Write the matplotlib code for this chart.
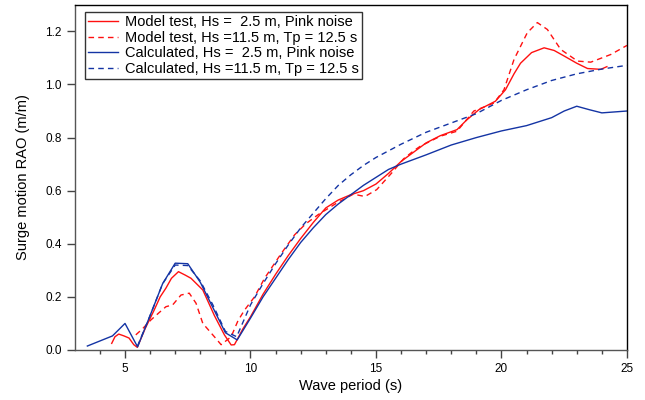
import numpy as np
import matplotlib.pyplot as plt

plt.rcParams['font.family'] = ['Liberation Sans', 'DejaVu Sans']

# model test, Hs = 2.5 m, pink noise
mt_small_T = [4.47, 4.6, 4.75, 4.96, 5.16, 5.35, 5.49, 5.8, 6.16, 6.4, 6.63, 6.85, 7.13, 7.4, 7.63,
              8.1, 8.56, 8.96, 9.23, 9.36, 9.7, 10.0, 10.5, 11.0, 11.5, 12.0, 12.5, 13.0, 13.5,
              14.0, 14.5, 15.0, 15.5, 16.0, 16.5, 17.0, 17.56, 18.23, 18.6, 19.1, 19.76, 20.16,
              20.5, 20.76, 21.2, 21.7, 22.1, 22.5, 23.0, 23.43, 23.96, 24.2]
mt_small_rao = [0.025, 0.05, 0.06, 0.053, 0.045, 0.02, 0.01, 0.08, 0.15, 0.2, 0.233, 0.27, 0.295,
                0.282, 0.27, 0.226, 0.13, 0.057, 0.019, 0.02, 0.08, 0.125, 0.21, 0.285, 0.355,
                0.42, 0.48, 0.535, 0.565, 0.585, 0.6, 0.625, 0.665, 0.71, 0.745, 0.78, 0.807,
                0.83, 0.865, 0.905, 0.937, 0.98, 1.04, 1.08, 1.12, 1.138, 1.128, 1.107, 1.08,
                1.06, 1.057, 1.067]

# model test, Hs = 11.5 m, Tp = 12.5 s
mt_large_T = [5.43, 5.7, 6.03, 6.35, 6.63, 6.9, 7.23, 7.56, 7.83, 8.1, 8.56, 8.83, 9.23, 9.5,
              9.76, 10.16, 10.56, 11.2, 11.76, 12.2, 12.7, 13.43, 14.1, 14.56, 15.03, 15.63,
              16.1, 16.5, 16.76, 17.56, 18.23, 18.9, 19.7, 20.1, 20.5, 21.03, 21.43, 21.83,
              22.36, 23.03, 23.56, 24.36, 25.0]
mt_large_rao = [0.057, 0.08, 0.113, 0.14, 0.163, 0.17, 0.207, 0.214, 0.176, 0.10, 0.05, 0.02,
                0.05, 0.11, 0.15, 0.2, 0.27, 0.36, 0.434, 0.475, 0.51, 0.553, 0.587, 0.578,
                0.604, 0.667, 0.72, 0.75, 0.767, 0.805, 0.824, 0.9, 0.93, 0.98, 1.094, 1.195,
                1.233, 1.207, 1.132, 1.088, 1.084, 1.113, 1.147]

# calculated, Hs = 2.5 m, pink noise
calc_small_T = [3.5, 4.5, 5.0, 5.5, 6.0, 6.5, 7.0, 7.5, 8.0, 8.5, 9.0, 9.47, 10.0, 10.5, 11.0,
                11.5, 12.0, 12.5, 13.0, 13.5, 14.0, 14.5, 15.0, 15.5, 16.0, 17.0, 18.0, 19.0,
                20.0, 21.0, 21.5, 22.0, 22.5, 23.0, 23.5, 24.0, 25.0]
calc_small_rao = [0.015, 0.053, 0.10, 0.012, 0.13, 0.25, 0.327, 0.325, 0.255, 0.16, 0.065, 0.038,
                  0.12, 0.2, 0.27, 0.34, 0.405, 0.46, 0.51, 0.55, 0.585, 0.62, 0.65, 0.68, 0.70,
                  0.735, 0.772, 0.80, 0.825, 0.845, 0.86, 0.875, 0.90, 0.918, 0.905, 0.893, 0.90]

# calculated, Hs = 11.5 m, Tp = 12.5 s
calc_large_T = [5.5, 6.0, 6.5, 7.0, 7.5, 8.0, 8.5, 9.0, 9.45, 10.0, 10.5, 11.0, 11.5, 12.0,
                12.5, 13.0, 13.5, 14.0, 14.5, 15.0, 16.0, 17.0, 18.0, 19.0, 20.0, 21.0, 22.0,
                23.0, 24.0, 25.0]
calc_large_rao = [0.015, 0.13, 0.25, 0.32, 0.318, 0.26, 0.17, 0.07, 0.05, 0.17, 0.25, 0.325,
                  0.395, 0.46, 0.515, 0.57, 0.62, 0.66, 0.695, 0.725, 0.775, 0.82, 0.855, 0.89,
                  0.94, 0.98, 1.015, 1.04, 1.058, 1.072]

red = '#ff1010'
blue = '#1434a4'

fig, ax = plt.subplots(figsize=(6.45, 4.0), dpi=100)
fig.subplots_adjust(left=0.116, right=0.972, top=0.988, bottom=0.125)

dash = (0, (4, 3))
ax.plot(mt_small_T, mt_small_rao, color=red, lw=1.0, label='Model test, Hs =  2.5 m, Pink noise')
ax.plot(mt_large_T, mt_large_rao, color=red, lw=1.0, ls=dash, label='Model test, Hs =11.5 m, Tp = 12.5 s')
ax.plot(calc_small_T, calc_small_rao, color=blue, lw=1.0, label='Calculated, Hs =  2.5 m, Pink noise')
ax.plot(calc_large_T, calc_large_rao, color=blue, lw=1.0, ls=dash, label='Calculated, Hs =11.5 m, Tp = 12.5 s')

ax.set_xlim(3, 25)
ax.set_ylim(0, 1.3)
ax.set_xticks([5, 10, 15, 20, 25])
ax.set_xticks(np.arange(4, 25, 1), minor=True)
ax.set_yticks([0.0, 0.2, 0.4, 0.6, 0.8, 1.0, 1.2])
ax.yaxis.set_major_formatter(plt.FormatStrFormatter('%.1f'))
ax.tick_params(axis='both', which='major', direction='out', length=6, labelsize=8.5, width=1, color='#444444')
ax.tick_params(axis='x', which='minor', direction='out', length=3, width=1, color='#444444')
for s in ax.spines.values():
    s.set_linewidth(1.0)
ax.spines['bottom'].set_color('#555555')
ax.spines['left'].set_color('#555555')

ax.set_xlabel('Wave period (s)', fontsize=10.5, labelpad=3)
ax.set_ylabel('Surge motion RAO (m/m)', fontsize=10.5, labelpad=11)

leg = ax.legend(loc='upper left', fontsize=10.5, frameon=True, fancybox=False, edgecolor='black',
                handlelength=2.0, borderpad=0.25, labelspacing=0.1, handletextpad=0.5,
                bbox_to_anchor=(0.018, 0.98), borderaxespad=0)
leg.get_frame().set_linewidth(1.0)

fig.savefig('out.png', dpi=100)
